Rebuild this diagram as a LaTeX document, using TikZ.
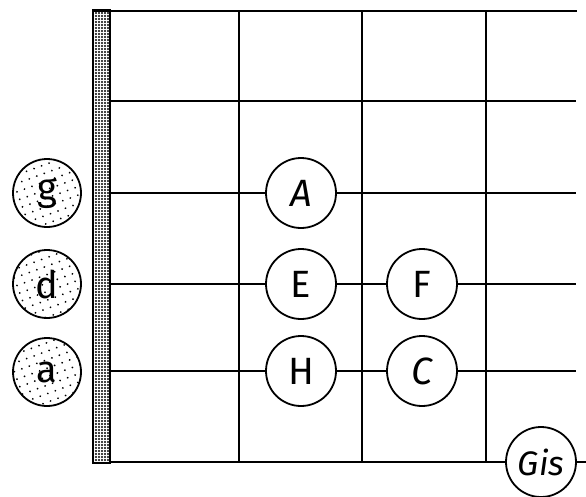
\documentclass[tikz,border=0pt]{standalone}
\usepackage{fontspec}
\setmainfont{Fira Sans}
\usetikzlibrary{patterns.meta,backgrounds}
\tikzset{
  line/.style={line width=2.4pt},
  note/.style={circle, draw, line width=1.8pt, fill=white, minimum size=70pt, inner sep=0pt, font=\fontsize{38}{38}\selectfont},
  open/.style={circle, draw, line width=1.8pt, minimum size=68pt, inner sep=0pt, font=\fontsize{38}{38}\selectfont,
    postaction={pattern={Dots[radius=1pt, distance=8pt, angle=20]}}},
}
\begin{document}
\begin{tikzpicture}[x=1pt,y=-1pt]
\useasboundingbox (0,0) rectangle (586,496);
% nut
\draw[line width=2pt, pattern={Dots[radius=1.05pt, distance=3pt]}] (93,10) rectangle (110,463);
\node[open] (g) at (47,193) {g};
\node[open] (d) at (47,284) {d};
\node[open] (a) at (47,372) {a};
\node[note] (A) at (301,193) {\itshape A};
\node[note] (E) at (301,284) {E};
\node[note] (F) at (422,284) {F};
\node[note] (H) at (301,371) {H};
\node[note] (C) at (422,371) {\itshape C};
\node[note,font=\fontsize{34}{34}\selectfont] (Gis) at (541,462) {\itshape Gis};
\coordinate (n0) at (94,11);
\coordinate (n1) at (110,101);
\coordinate (n2) at (110,193);
\coordinate (n3) at (110,284);
\coordinate (n4) at (110,371);
\coordinate (n5) at (110,462);
\coordinate (e0) at (577,11);
\coordinate (e1) at (576,101);
\coordinate (e2) at (576,193);
\coordinate (e3) at (576,284);
\coordinate (e4) at (576,371);
\coordinate (e5) at (586,462);
\coordinate (f1t) at (239,11); \coordinate (f1b) at (239,462);
\coordinate (f2t) at (362,11); \coordinate (f2b) at (362,462);
\coordinate (f3t) at (486,11); \coordinate (f3b) at (486,462);
\begin{scope}[on background layer]
\draw[line] (n0) -- (e0);
\draw[line] (n1) -- (e1);
\draw[line] (n2) -- (A) -- (e2);
\draw[line] (n3) -- (E) -- (F) -- (e3);
\draw[line] (n4) -- (H) -- (C) -- (e4);
\draw[line] (n5) -- (Gis) -- (e5);
\draw[line] (f1t) -- (f1b);
\draw[line] (f2t) -- (f2b);
\draw[line] (f3t) -- (f3b);
\end{scope}
\end{tikzpicture}
\end{document}
